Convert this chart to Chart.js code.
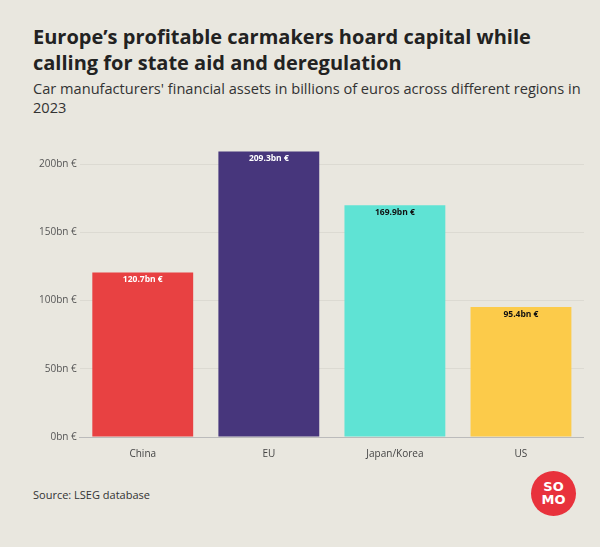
<!DOCTYPE html>
<html><head><meta charset="utf-8">
<script src="https://cdn.jsdelivr.net/npm/chart.js@4.4.1/dist/chart.umd.min.js"></script>
<style>
body{margin:0;background:#e9e7df;font-family:"Open Sans",sans-serif;width:600px;height:547px;overflow:hidden;position:relative;color:#222}
h1{position:absolute;left:33px;top:24px;margin:0;font-size:20px;line-height:26px;font-weight:700;width:560px;color:#222}
.sub{position:absolute;left:33px;top:79px;font-size:14.6px;line-height:19px;color:#333;width:565px}
#wrap{position:absolute;left:36px;top:128px;width:548px;height:335px}
.src{position:absolute;left:33px;top:487px;font-size:11px;color:#333}
.logo{position:absolute;left:531px;top:471px;width:45px;height:45px;border-radius:50%;background:#e8323c;color:#fff;font-weight:800;font-size:13px;line-height:13px;text-align:center;font-family:"DejaVu Sans",sans-serif}
</style></head><body>
<h1>Europe’s profitable carmakers hoard capital while calling for state aid and deregulation</h1>
<div class="sub">Car manufacturers' financial assets in billions of euros across different regions in 2023</div>
<div id="wrap"><canvas id="c"></canvas></div>
<div class="src">Source: LSEG database</div>
<div class="logo"><div style="padding-top:9px">SO</div><div>MO</div></div>
<script>
const regions = ['China', 'EU', 'Japan/Korea', 'US'];
const assets = [120.7, 209.3, 169.9, 95.4];
const yTicks = [0, 50, 100, 150, 200];
const barColors = ['#e84142', '#47367c', '#5fe3d4', '#fccb4a'];
const labelColors = ['#fff', '#fff', '#111', '#111'];

const labelPlugin = {
  id: 'labels',
  afterDatasetsDraw(chart) {
    const ctx = chart.ctx;
    chart.getDatasetMeta(0).data.forEach((bar, i) => {
      ctx.save();
      ctx.font = 'bold 8.5px "Open Sans", sans-serif';
      ctx.fillStyle = labelColors[i];
      ctx.textAlign = 'center';
      ctx.textBaseline = 'top';
      ctx.fillText(assets[i] + 'bn €', bar.x, bar.y + 3);
      ctx.restore();
    });
  }
};

new Chart(document.getElementById('c'), {
  type: 'bar',
  data: { labels: regions, datasets: [{ data: assets, backgroundColor: barColors, barPercentage: 0.8, categoryPercentage: 1 }] },
  options: {
    responsive: true, maintainAspectRatio: false, animation: false,
    layout: { padding: { top: 6, right: 0 } },
    plugins: { legend: { display: false }, tooltip: { enabled: false } },
    scales: {
      y: {
        min: 0, max: 220,
        afterBuildTicks: s => { s.ticks = yTicks.map(v => ({ value: v })); },
        ticks: { color: '#555', font: { size: 10, family: '"Open Sans"' }, callback: v => v + 'bn €' },
        grid: { color: '#dcdad2', drawTicks: false },
        border: { display: false }
      },
      x: {
        ticks: { color: '#444', font: { size: 10, family: '"Open Sans"' } },
        grid: { display: false },
        border: { color: '#bbb' }
      }
    }
  },
  plugins: [labelPlugin]
});
</script>
</body></html>
